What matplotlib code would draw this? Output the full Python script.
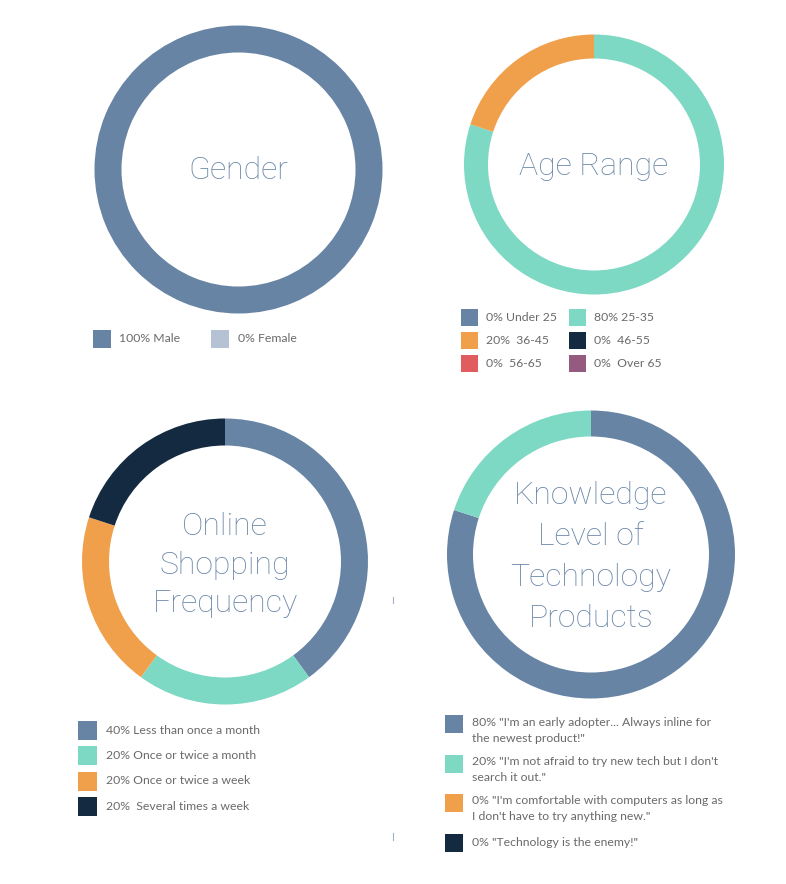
import matplotlib
matplotlib.use("Agg")
import matplotlib.pyplot as plt
from matplotlib.patches import Rectangle

# ---------------- data ----------------
gender_labels = ["100% Male", "0% Female"]
gender_values = [100, 0]

age_labels = ["0% Under 25", "80% 25-35", "20%  36-45", "0%  46-55", "0%  56-65", "0%  Over 65"]
age_values = [0, 80, 20, 0, 0, 0]

shop_labels = ["40% Less than once a month", "20% Once or twice a month",
               "20% Once or twice a week", "20%  Several times a week"]
shop_values = [40, 20, 20, 20]

know_labels = ["80% \"I'm an early adopter... Always inline for\nthe newest product!\"",
               "20% \"I'm not afraid to try new tech but I don't\nsearch it out.\"",
               "0% \"I'm comfortable with computers as long as\nI don't have to try anything new.\"",
               "0% \"Technology is the enemy!\""]
know_values = [80, 20, 0, 0]

titles = ["Gender", "Age Range", "Online\nShopping\nFrequency", "Knowledge\nLevel of\nTechnology\nProducts"]

# ---------------- style ----------------
BLUE = "#6884A5"
TEAL = "#7DD8C4"
ORANGE = "#F0A04A"
NAVY = "#132A40"
RED = "#E05C5E"
PURPLE = "#955A80"
LIGHT = "#B4C2D3"
TITLE_C = "#6A86A8"
TEXT_C = "#6a6a6a"

gender_colors = [BLUE, LIGHT]
age_colors = [BLUE, TEAL, ORANGE, NAVY, RED, PURPLE]
shop_colors = [BLUE, TEAL, ORANGE, NAVY]
know_colors = [BLUE, TEAL, ORANGE, NAVY]

W, H = 786, 884
DPI = 100
fig = plt.figure(figsize=(W / DPI, H / DPI), dpi=DPI)
fig.patch.set_facecolor("white")

TITLE_FONT = dict(family=["Roboto", "DejaVu Sans"], weight="light")
LEG_FONT = dict(family=["Lato", "DejaVu Sans"])


def donut(cx, cy, R, width, values, colors):
    ax = fig.add_axes([(cx - R) / W, 1 - (cy + R) / H, 2 * R / W, 2 * R / H])
    ax.pie(values, colors=colors, startangle=90, counterclock=False, radius=1,
           wedgeprops=dict(width=width / R, linewidth=0, antialiased=True))
    ax.set_xlim(-1, 1)
    ax.set_ylim(-1, 1)
    ax.set_aspect("equal")
    ax.axis("off")
    return ax


donut(238.5, 169.5, 144, 27, gender_values, gender_colors)
donut(594, 164.5, 130, 24, age_values, age_colors)
donut(225, 561.5, 143, 27, shop_values, shop_colors)
donut(591, 554.5, 144, 26, know_values, know_colors)

# overlay axes in pixel coordinates for texts and legends
ov = fig.add_axes([0, 0, 1, 1], zorder=5)
ov.set_xlim(0, W)
ov.set_ylim(H, 0)
ov.axis("off")
ov.patch.set_alpha(0)

TS = 23
ov.text(238.5, 170.5, titles[0], ha="center", va="center", color=TITLE_C, fontsize=TS, **TITLE_FONT)
ov.text(594, 166.5, titles[1], ha="center", va="center", color=TITLE_C, fontsize=TS, **TITLE_FONT)
ov.text(225, 565, titles[2], ha="center", va="center", color=TITLE_C, fontsize=TS,
        linespacing=1.41, **TITLE_FONT)
ov.text(591, 557, titles[3], ha="center", va="center", color=TITLE_C, fontsize=TS,
        linespacing=1.52, **TITLE_FONT)

LS = 8.8


def legend_item(x, yc, color, label, tx, size=18, va="center", ty=None):
    ov.add_patch(Rectangle((x, yc - size / 2), size, size, facecolor=color, edgecolor="none"))
    ov.text(tx, yc if ty is None else ty, label, ha="left", va=va, color=TEXT_C,
            fontsize=LS, linespacing=1.55, **LEG_FONT)


# gender legend
legend_item(93, 339, gender_colors[0], gender_labels[0], 119)
legend_item(211, 339, gender_colors[1], gender_labels[1], 238)

# age legend (2 columns x 3 rows)
age_pos = [(461, 317.5, 486), (569, 317.5, 594),
           (461, 340.5, 486), (569, 340.5, 594),
           (461, 363.5, 486), (569, 363.5, 594)]
for (x, y, tx), c, lab in zip(age_pos, age_colors, age_labels):
    legend_item(x, y, c, lab, tx, size=17)

# shopping legend
for yc, c, lab in zip([730, 755.5, 781, 806], shop_colors, shop_labels):
    legend_item(78, yc, c, lab, 106, size=19)

# knowledge legend
know_sq = [724, 763.5, 802.5, 842.5]
know_ty = [717, 756, 795, 843]
for i, (yc, ty, c, lab) in enumerate(zip(know_sq, know_ty, know_colors, know_labels)):
    if "\n" in lab:
        legend_item(445, yc, c, lab, 472, size=18, va="top", ty=ty)
    else:
        legend_item(445, yc, c, lab, 472, size=18)

# small separator ticks seen in the reference
ov.plot([393, 393], [597, 603], color="#9fb1c8", lw=0.8)
ov.plot([393, 393], [833, 840], color="#9fb1c8", lw=0.8)

fig.savefig("out.png", dpi=DPI, facecolor="white")
